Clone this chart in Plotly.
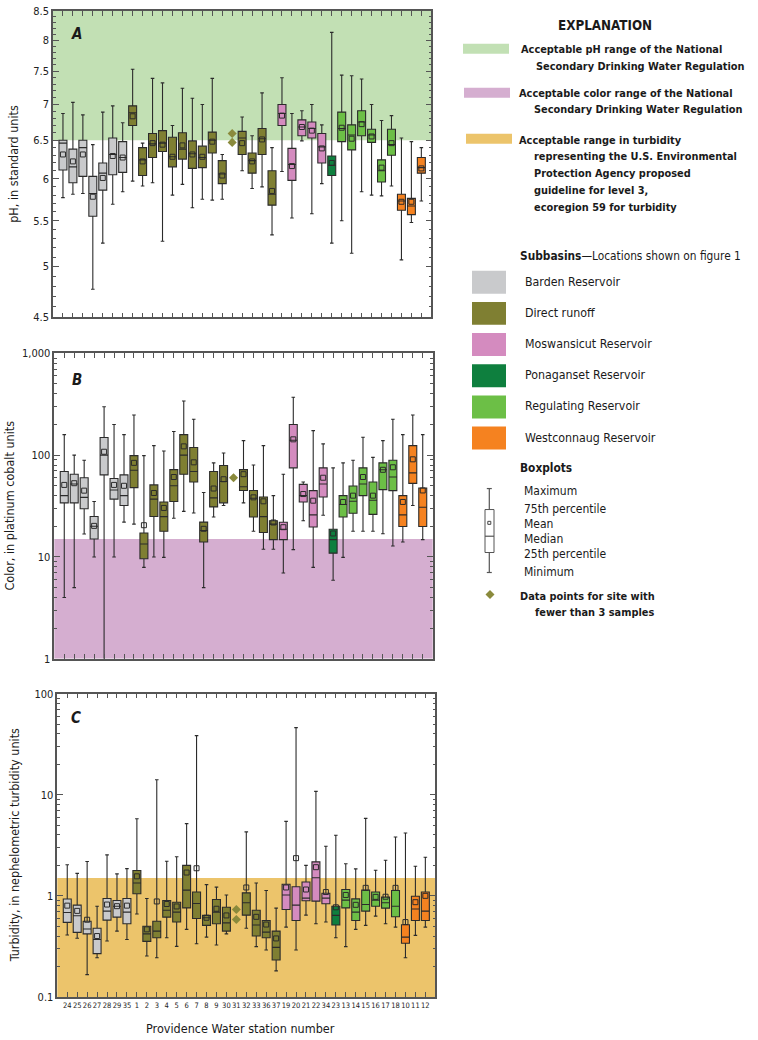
import math
import plotly.graph_objects as go

# ---------------- data ----------------
stations = ["24", "25", "26", "27", "28", "29", "35", "1", "2", "3", "4", "5", "6", "7", "8", "9",
            "30", "31", "32", "33", "36", "37", "19", "20", "21", "22", "34", "23", "13", "14",
            "15", "16", "17", "18", "10", "11", "12"]
subbasin = (["Barden Reservoir"] * 7 + ["Direct runoff"] * 15 + ["Moswansicut Reservoir"] * 5 +
            ["Ponaganset Reservoir"] + ["Regulating Reservoir"] * 6 + ["Westconnaug Reservoir"] * 3)
few_station = "31"

# pH (standard units): max, q3, median, mean, q1, min  (None = fewer than 3 samples)
ph_max = [6.87, 7.03, 6.85, 6.44, 6.89, 6.98, 6.74, 7.53, 6.46, 7.39, 7.32, 6.70, 7.24, 7.09, 7.00, 7.39,
          6.31, None, 6.82, 6.56, 7.17, 6.40, 7.40, 6.87, 6.91, 7.00, 6.71, 8.13, 7.44, 7.43,
          7.38, 7.00, 6.77, 6.84, 6.53, 6.48, 6.40]
ph_q3 = [6.50, 6.38, 6.50, 6.03, 6.20, 6.53, 6.48, 6.98, 6.40, 6.59, 6.63, 6.54, 6.60, 6.49, 6.42, 6.61,
         6.23, None, 6.62, 6.33, 6.66, 6.10, 7.00, 6.39, 6.78, 6.75, 6.59, 6.29, 6.89, 6.71,
         6.91, 6.65, 6.24, 6.65, 5.81, 5.76, 6.27]
ph_med = [6.46, 6.15, 6.40, 5.82, 6.07, 6.31, 6.27, 6.88, 6.24, 6.45, 6.46, 6.28, 6.38, 6.32, 6.27, 6.50,
          6.06, None, 6.53, 6.23, 6.52, 5.81, 6.87, 6.18, 6.68, 6.66, 6.41, 6.17, 6.66, 6.57,
          6.75, 6.57, 6.10, 6.44, 5.73, 5.67, 6.14]
ph_mean = [6.31, 6.22, 6.31, 5.78, 6.01, 6.29, 6.27, 6.83, 6.22, 6.46, 6.44, 6.28, 6.43, 6.31, 6.28, 6.48,
           6.04, None, 6.46, 6.22, 6.51, 5.85, 6.84, 6.16, 6.68, 6.63, 6.39, 6.20, 6.67, 6.52,
           6.72, 6.55, 6.14, 6.46, 5.72, 5.72, 6.13]
ph_q1 = [6.11, 5.95, 6.03, 5.55, 5.86, 6.05, 6.08, 6.70, 6.04, 6.27, 6.35, 6.15, 6.25, 6.13, 6.14, 6.33,
         5.94, None, 6.31, 6.07, 6.31, 5.68, 6.70, 5.98, 6.56, 6.53, 6.20, 6.04, 6.48, 6.37,
         6.56, 6.47, 5.96, 6.30, 5.62, 5.57, 6.07]
ph_min = [5.77, 5.81, 5.82, 4.77, 5.25, 5.69, 5.84, 5.97, 5.91, 5.95, 5.27, 5.80, 5.93, 5.65, 5.75, 5.74,
          5.75, None, 6.10, 5.88, 5.90, 5.34, 6.09, 5.53, 6.49, 5.58, 5.94, 5.25, 5.50, 5.14,
          5.84, 5.80, 5.79, 5.91, 5.07, 5.48, 5.73]
ph_few = [6.59, 6.47]

# Color (platinum cobalt units)
col_max = [159, 100, 89, 35, 299, 200, 159, 248, 99, 124, 110, 171, 340, 225, 43, 84,
           105, None, 139, 80, 124, 40, 65, 370, 54.5, 174, 129, 75, 84, 89,
           150, 95, 139, 225, 159, 248, 159]
col_q3 = [69, 65, 60, 25, 149, 59, 64, 99, 17.2, 51, 34.7, 72, 159, 119, 22, 69,
          79, None, 72, 45, 38.8, 22.7, 21.9, 200, 51.6, 44.8, 75, 18.7, 40, 49.8,
          75, 54.5, 84, 89, 40, 124, 47.5]
col_med = [40, 52, 38.5, 20, 100, 45.5, 40, 71, 13.4, 37, 24.9, 50, 100, 69, 18.2, 38,
           55, None, 49, 37.7, 24.9, 21, 18.7, 140, 40, 25.9, 52, 14.8, 32.7, 35.2,
           52, 36, 71.8, 61, 25.9, 67, 30.8]
col_mean = [51, 53, 44.8, 20.2, 108, 51, 50, 84, 20.5, 42.5, 30.3, 61, 122, 85, 18.9, 47,
            58, None, 65, 38.5, 35.2, 21.8, 19.6, 143, 41.5, 35.7, 60, 17, 34.7, 40,
            61, 40, 71.8, 76, 34.7, 91, 45]
col_q1 = [34, 34, 29.7, 15, 64, 37, 32, 48, 9.6, 25, 17.9, 35, 65, 54.5, 14, 31,
          34, None, 45, 24.7, 17.4, 14.8, 14.8, 75, 34.7, 19.7, 38.8, 10.9, 24.7, 26.9,
          40, 26.2, 45.8, 44.8, 19.9, 52.8, 19.9]
col_min = [4.0, 5.0, 16.8, 10, 0.5, 10, 22, 21, 7.9, 10, 9.9, 24, 28, 27, 5.0, 24.7,
           32, None, 34, 17.9, 11.9, 11.9, 6.95, 11.8, 22.7, 7.9, 25.7, 5.9, 9.9, 17.9,
           17.9, 17.9, 16.9, 12.8, 14, 32, 14.8]
col_few = [60]

# Turbidity (nephelometric turbidity units)
tur_max = [2.03, 1.67, 2.19, 0.79, 2.54, 1.65, 1.86, 5.8, 0.94, 14.1, 2.2, 2.44, 5.18, 38.5, 1.29, 1.22,
           1.02, None, 4.29, 1.34, 1.13, 0.755, 5.45, 46.2, 2.0, 10.8, 3.09, 3.97, 2.08, 1.85,
           5.84, 1.79, 2.25, 3.82, 4.19, 1.96, 2.41]
tur_q3 = [0.93, 0.81, 0.56, 0.477, 0.94, 0.90, 0.94, 1.78, 0.50, 0.56, 0.90, 0.865, 2.0, 1.09, 0.64, 0.92,
          0.77, None, 1.07, 0.72, 0.571, 0.448, 1.30, 1.23, 1.37, 2.17, 1.06, 0.79, 1.155, 0.933,
          1.14, 1.09, 0.97, 1.13, 0.518, 0.99, 1.09]
tur_med = [0.685, 0.635, 0.47, 0.37, 0.706, 0.79, 0.69, 1.34, 0.42, 0.448, 0.72, 0.69, 1.14, 0.84, 0.607, 0.69,
           0.54, None, 0.853, 0.514, 0.437, 0.309, 1.02, 0.81, 0.95, 1.51, 0.95, 0.64, 0.906, 0.69,
           0.82, 0.906, 0.853, 0.79, 0.39, 0.74, 0.706]
tur_mean = [0.80, 0.71, 0.58, 0.40, 0.82, 0.79, 0.80, 1.56, 0.466, 0.88, 0.83, 0.785, 1.70, 1.875, 0.607, 0.745,
            0.64, None, 1.21, 0.62, 0.52, 0.379, 1.21, 2.36, 1.155, 1.92, 1.09, 0.77, 1.02, 0.815,
            1.2, 0.977, 0.98, 1.2, 0.55, 0.865, 1.0]
tur_q1 = [0.546, 0.435, 0.42, 0.268, 0.575, 0.615, 0.53, 1.05, 0.354, 0.385, 0.615, 0.55, 0.76, 0.597, 0.51, 0.53,
          0.448, None, 0.644, 0.40, 0.385, 0.232, 0.733, 0.571, 0.894, 0.886, 0.834, 0.514, 0.76, 0.571,
          0.706, 0.79, 0.755, 0.62, 0.339, 0.571, 0.571]
tur_min = [0.41, 0.38, 0.166, 0.244, 0.357, 0.448, 0.37, 0.66, 0.254, 0.244, 0.385, 0.316, 0.466, 0.336, 0.39, 0.326,
           0.42, None, 0.477, 0.314, 0.291, 0.181, 0.49, 0.291, 0.644, 0.53, 0.55, 0.385, 0.314, 0.466,
           0.51, 0.63, 0.53, 0.49, 0.244, 0.406, 0.49]
tur_few = [0.733, 0.583]

# acceptable ranges
ph_range = (6.5, 8.5)
color_range = (1, 15)
turb_range = (0.1, 1.5)

colors = {
    "Barden Reservoir": "#c9cacc",
    "Direct runoff": "#7f7f32",
    "Moswansicut Reservoir": "#d48bbf",
    "Ponaganset Reservoir": "#0e7f3e",
    "Regulating Reservoir": "#6cbf46",
    "Westconnaug Reservoir": "#f58220",
}
band_colors = ["#c2e0b4", "#d5aed0", "#ecc46b"]
diamond_color = "#8a8a3c"

W, H = 758, 1040
FONT = "Liberation Sans Narrow, Arial Narrow, DejaVu Sans Condensed, sans-serif"
Y_OFF, Y_SCALE = 5.1, 0.9882   # compensation for the capture's vertical mapping


def px(x):
    return x / W


def py(y):
    return 1 - ((y - Y_OFF) / Y_SCALE) / H


fig = go.Figure()

panels = [
    dict(ax="", data=(ph_max, ph_q3, ph_med, ph_mean, ph_q1, ph_min), few=ph_few,
         xd=(53, 431.3), yd=(10, 316.7), rng=ph_range, band=band_colors[0],
         yr=(math.log10(4.5), math.log10(8.5)),
         tv=[4.5, 5, 5.5, 6, 6.5, 7, 7.5, 8, 8.5], tt=["4.5", "5", "5.5", "6", "6.5", "7", "7.5", "8", "8.5"],
         minor=[round(4.5 + 0.1 * k, 1) for k in range(41)]),
    dict(ax="2", data=(col_max, col_q3, col_med, col_mean, col_q1, col_min), few=col_few,
         xd=(54.3, 432.7), yd=(352.7, 658.3), rng=color_range, band=band_colors[1],
         yr=(0, 3), tv=[1, 10, 100, 1000], tt=["1", "10", "100", "1,000"],
         minor=[m * 10 ** e for e in range(0, 3) for m in range(2, 10)]),
    dict(ax="3", data=(tur_max, tur_q3, tur_med, tur_mean, tur_q1, tur_min), few=tur_few,
         xd=(57.3, 435.3), yd=(693.3, 996.7), rng=turb_range, band=band_colors[2],
         yr=(-1, 2), tv=[0.1, 1, 10, 100], tt=["0.1", "1", "10", "100"],
         minor=[round(m * 10 ** e, 4) for e in range(-1, 2) for m in range(2, 10)]),
]

positions = list(range(1, len(stations) + 1))
few_pos = positions[stations.index(few_station)]
AXC = "#555555"

for p in panels:
    a = p["ax"]
    vmax, vq3, vmed, vmean, vq1, vmin = p["data"]
    for g, c in colors.items():
        idx = [i for i, s in enumerate(subbasin) if s == g and vmed[i] is not None]
        if not idx:
            continue
        fig.add_trace(go.Box(
            x=[positions[i] for i in idx],
            q1=[vq1[i] for i in idx], median=[vmed[i] for i in idx], q3=[vq3[i] for i in idx],
            lowerfence=[vmin[i] for i in idx], upperfence=[vmax[i] for i in idx],
            xaxis="x" + a, yaxis="y" + a, fillcolor=c, width=0.8, whiskerwidth=0.45,
            line=dict(color="#2b2b2b", width=1.1), boxpoints=False, showlegend=False,
            hoverinfo="skip"))
        fig.add_trace(go.Scatter(
            x=[positions[i] for i in idx], y=[vmean[i] for i in idx], mode="markers",
            xaxis="x" + a, yaxis="y" + a,
            marker=dict(symbol="square-open", size=5, color="#2b2b2b", line=dict(width=1)),
            showlegend=False, hoverinfo="skip"))
    fig.add_trace(go.Scatter(
        x=[few_pos] * len(p["few"]), y=p["few"], mode="markers", xaxis="x" + a, yaxis="y" + a,
        marker=dict(symbol="diamond", size=7, color=diamond_color), showlegend=False,
        hoverinfo="skip"))
    # acceptable band (data values on the log axis)
    fig.add_shape(type="rect", xref="x" + a + " domain", yref="y" + a,
                  x0=0, x1=1, y0=p["rng"][0], y1=p["rng"][1],
                  fillcolor=p["band"], line=dict(width=0), layer="below")
    xa = dict(domain=[px(p["xd"][0]), px(p["xd"][1])], anchor="y" + a, range=[0, 38],
              tickmode="array", tickvals=positions, ticktext=stations,
              showticklabels=(a == "3"), ticks="inside", ticklen=5, tickcolor=AXC, tickwidth=1.2,
              showline=True, linecolor=AXC, linewidth=1.5, mirror="ticks", showgrid=False,
              zeroline=False, tickangle=0, tickfont=dict(size=7.5, color="#222"))
    ya = dict(domain=[py(p["yd"][1]), py(p["yd"][0])], anchor="x" + a, type="log",
              range=list(p["yr"]), tickmode="array", tickvals=p["tv"], ticktext=p["tt"],
              ticks="inside", ticklen=6, tickcolor=AXC, tickwidth=1.2, showline=True,
              linecolor=AXC, linewidth=1.5, mirror="ticks", showgrid=False, zeroline=False,
              tickfont=dict(size=11, color="#222"),
              minor=dict(tickmode="array", tickvals=p["minor"], ticks="inside", ticklen=3,
                         tickcolor=AXC, tickwidth=1, showgrid=False))
    fig.update_layout({"xaxis" + a: xa, "yaxis" + a: ya})

ann = []


def text(t, x, y, size=12, xanchor="left", angle=0, color="#1a1a1a"):
    ann.append(dict(text=t, x=px(x), y=py(y), xref="paper", yref="paper", showarrow=False,
                    xanchor=xanchor, yanchor="middle", textangle=angle,
                    font=dict(family=FONT, size=size, color=color)))


# panel letters
for letter, (lx, ly) in zip(["A", "B", "C"], [(76, 33), (77, 379), (76, 718)]):
    text("<b><i>" + letter + "</i></b>", lx, ly, size=15, xanchor="center")

# axis titles
text("pH, in standard units", 14, 163, size=12.5, xanchor="center", angle=-90)
text("Color, in platinum cobalt units", 10, 505, size=12.5, xanchor="center", angle=-90)
text("Turbidity, in nephelometric turbidity units", 14, 845, size=12.5, xanchor="center", angle=-90)
text("Providence Water station number", 240, 1028, size=12.5, xanchor="center")

# explanation
text("<b>EXPLANATION</b>", 605, 25, size=13.3, xanchor="center")
shapes = []


def rect(x0, y0, x1, y1, fill, line=None):
    shapes.append(dict(type="rect", xref="paper", yref="paper", x0=px(x0), x1=px(x1),
                       y0=py(y1), y1=py(y0), fillcolor=fill,
                       line=dict(width=0 if line is None else 1, color=line or fill)))


def seg(x0, y0, x1, y1, color="#555", width=1.2):
    shapes.append(dict(type="line", xref="paper", yref="paper", x0=px(x0), x1=px(x1),
                       y0=py(y0), y1=py(y1), line=dict(color=color, width=width)))


BS = 10.9
rect(463, 43, 509, 53, band_colors[0])
text("<b>Acceptable pH range of the National</b>", 519, 49, size=BS)
text("<b>Secondary Drinking Water Regulation</b>", 534, 66, size=BS)
rect(464, 87, 510, 97, band_colors[1])
text("<b>Acceptable color range of the National</b>", 517, 93, size=BS)
text("<b>Secondary Drinking Water Regulation</b>", 532, 109, size=BS)
rect(466, 133, 512, 143, band_colors[2])
text("<b>Acceptable range in turbidity</b>", 517, 140, size=BS)
for t, yy in [("representing the U.S. Environmental", 156), ("Protection Agency proposed", 173),
              ("guideline for level 3,", 190), ("ecoregion 59 for turbidity", 207)]:
    text("<b>" + t + "</b>", 532, yy, size=BS)

text("<b>Subbasins</b>\u2014Locations shown on figure 1", 518, 255, size=11.8)
for k, (g, c) in enumerate(colors.items()):
    y0 = 270 + k * 31.2
    rect(472, y0, 506, y0 + 23, c)
    text(g, 523, y0 + 11, size=12.3)

text("<b>Boxplots</b>", 518, 467, size=11.8)
seg(489.3, 488, 489.3, 509)
seg(489.3, 552, 489.3, 572)
seg(486.8, 488, 491.8, 488)
seg(486.8, 572, 491.8, 572)
rect(485, 509, 494, 552, "rgba(0,0,0,0)", line="#555")
seg(485, 535.7, 494, 535.7)
rect(487.8, 520.8, 490.8, 523.8, "rgba(0,0,0,0)", line="#444")
for t, yy in [("Maximum", 490), ("75th percentile", 508), ("Mean", 523), ("Median", 538),
              ("25th percentile", 553), ("Minimum", 572)]:
    text(t, 522, yy, size=12)

shapes.append(dict(type="path", xref="paper", yref="paper",
                   path="M {} {} L {} {} L {} {} L {} {} Z".format(
                       px(490), py(589.5), px(494.5), py(594), px(490), py(598.5), px(485.5), py(594)),
                   fillcolor=diamond_color, line=dict(width=0)))
text("<b>Data points for site with</b>", 518, 596, size=BS)
text("<b>fewer than 3 samples</b>", 533, 612, size=BS)

fig.update_layout(
    width=W, height=H, margin=dict(l=0, r=0, t=0, b=0), paper_bgcolor="white",
    plot_bgcolor="white", boxmode="overlay", showlegend=False,
    font=dict(family=FONT, size=11, color="#222"),
    annotations=ann,
)
for s in shapes:
    fig.add_shape(**s)

fig.write_html("out.html", config={"displayModeBar": False},
               post_script="document.body.style.margin='0';document.body.style.padding='0';")
